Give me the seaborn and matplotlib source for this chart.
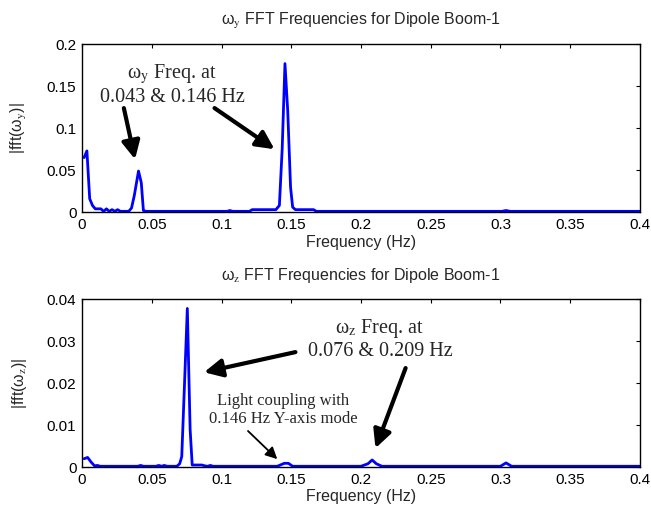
import numpy as np
import pandas as pd
import matplotlib
matplotlib.use('Agg')
import matplotlib.pyplot as plt
import seaborn as sns

# omega_y spectrum
freq_y = [0.0015, 0.0035, 0.0055, 0.0075, 0.0095, 0.0115, 0.0135, 0.0155, 0.0175, 0.0195,
          0.0215, 0.0235, 0.0255, 0.0275, 0.0295, 0.0335, 0.0355, 0.0375, 0.0405, 0.0425,
          0.0440, 0.0460, 0.0700, 0.1000, 0.1040, 0.1060, 0.1080, 0.1200, 0.1220, 0.1300,
          0.1390, 0.1415, 0.1435, 0.1455, 0.1475, 0.1495, 0.1510, 0.1530, 0.1600, 0.1660,
          0.1680, 0.2000, 0.2500, 0.3010, 0.3040, 0.3070, 0.3500, 0.4000]
amp_y = [0.065, 0.073, 0.016, 0.008, 0.004, 0.004, 0.004, 0.001, 0.004, 0.001,
         0.003, 0.001, 0.003, 0.001, 0.001, 0.001, 0.005, 0.020, 0.049, 0.035,
         0.002, 0.001, 0.001, 0.001, 0.001, 0.002, 0.001, 0.001, 0.003, 0.003,
         0.003, 0.008, 0.075, 0.177, 0.120, 0.030, 0.006, 0.003, 0.003, 0.003,
         0.001, 0.001, 0.001, 0.001, 0.002, 0.001, 0.001, 0.001]

# omega_z spectrum
freq_z = [0.0015, 0.0040, 0.0065, 0.0090, 0.0110, 0.0130, 0.0400, 0.0420, 0.0440, 0.0530,
          0.0550, 0.0570, 0.0590, 0.0610, 0.0630, 0.0680, 0.0700, 0.0715, 0.0735, 0.0755,
          0.0775, 0.0790, 0.0860, 0.0880, 0.0900, 0.0920, 0.0940, 0.1400, 0.1450, 0.1480,
          0.1510, 0.2000, 0.2050, 0.2080, 0.2110, 0.2150, 0.3000, 0.3040, 0.3080, 0.4000]
amp_z = [0.0020, 0.0023, 0.0012, 0.0003, 0.0004, 0.0002, 0.0002, 0.0004, 0.0002, 0.0002,
         0.0004, 0.0002, 0.0004, 0.0002, 0.0002, 0.0002, 0.0008, 0.0025, 0.0200, 0.0378,
         0.0090, 0.0005, 0.0005, 0.0003, 0.0002, 0.0004, 0.0002, 0.0002, 0.0009, 0.0009,
         0.0002, 0.0002, 0.0008, 0.0017, 0.0008, 0.0002, 0.0002, 0.0010, 0.0002, 0.0002]

xticks = [0, 0.05, 0.1, 0.15, 0.2, 0.25, 0.3, 0.35, 0.4]
xticklabels = ['0', '0.05', '0.1', '0.15', '0.2', '0.25', '0.3', '0.35', '0.4']
yticks_y = [0, 0.05, 0.1, 0.15, 0.2]
yticklabels_y = ['0', '0.05', '0.1', '0.15', '0.2']
yticks_z = [0, 0.01, 0.02, 0.03, 0.04]
yticklabels_z = ['0', '0.01', '0.02', '0.03', '0.04']

sns.set_style('white')
plt.rcParams['font.family'] = ['Liberation Sans', 'DejaVu Sans']
plt.rcParams['mathtext.fontset'] = 'stix'

df_y = pd.DataFrame({'f': freq_y, 'a': amp_y})
df_z = pd.DataFrame({'f': freq_z, 'a': amp_z})

fig = plt.figure(figsize=(6.51, 5.15), dpi=100)
ax1 = fig.add_axes([0.126, 0.588, 0.857, 0.326])
ax2 = fig.add_axes([0.126, 0.093, 0.857, 0.326])

big = dict(arrowstyle='-|>,head_length=0.6,head_width=0.3', lw=3, color='k',
           mutation_scale=18, shrinkA=0, shrinkB=0)
thin = dict(arrowstyle='-|>,head_length=0.5,head_width=0.25', lw=1.3, color='k',
            mutation_scale=14, shrinkA=0, shrinkB=0)
serif = ['Liberation Serif', 'DejaVu Serif']

for ax, df, yt, ytl, sub in [(ax1, df_y, yticks_y, yticklabels_y, 'y'),
                             (ax2, df_z, yticks_z, yticklabels_z, 'z')]:
    sns.lineplot(data=df, x='f', y='a', ax=ax, color='#0000ff', lw=2)
    ax.set_xlim(0, 0.4)
    ax.set_ylim(yt[0], yt[-1])
    ax.set_xticks(xticks)
    ax.set_xticklabels(xticklabels)
    ax.set_yticks(yt)
    ax.set_yticklabels(ytl)
    ax.tick_params(direction='in', length=3, width=0.8, top=True, right=True,
                   labelsize=11, pad=4, colors='k')
    for s in ax.spines.values():
        s.set_visible(True)
        s.set_color('k')
        s.set_linewidth(1)
    ax.set_xlabel('Frequency (Hz)', fontsize=11.5, labelpad=2)
    ax.set_ylabel('|fft(ω$_\\mathrm{%s}$)|' % sub, fontsize=11.5, labelpad=13)
    ax.set_title('ω$_\\mathrm{%s}$ FFT Frequencies for Dipole Boom-1' % sub,
                 fontsize=11.5, pad=14)

ax1.text(0.0645, 0.152, 'ω$_\\mathrm{y}$ Freq. at\n0.043 & 0.146 Hz',
         ha='center', va='center', fontsize=14.5, family=serif, linespacing=1.2)
ax1.annotate('', xy=(0.038, 0.063), xytext=(0.030, 0.124), arrowprops=big)
ax1.annotate('', xy=(0.138, 0.075), xytext=(0.095, 0.124), arrowprops=big)

ax2.text(0.2136, 0.0306, 'ω$_\\mathrm{z}$ Freq. at\n0.076 & 0.209 Hz',
         ha='center', va='center', fontsize=14.5, family=serif, linespacing=1.15)
ax2.annotate('', xy=(0.0875, 0.0226), xytext=(0.153, 0.0274), arrowprops=big)
ax2.annotate('', xy=(0.2104, 0.0045), xytext=(0.232, 0.0236), arrowprops=big)

ax2.text(0.144, 0.0136, 'Light coupling with\n0.146 Hz Y-axis mode',
         ha='center', va='center', fontsize=12, family=serif, linespacing=1.2)
ax2.annotate('', xy=(0.140, 0.0019), xytext=(0.119, 0.0086), arrowprops=thin)

fig.savefig('out.png', dpi=100)
